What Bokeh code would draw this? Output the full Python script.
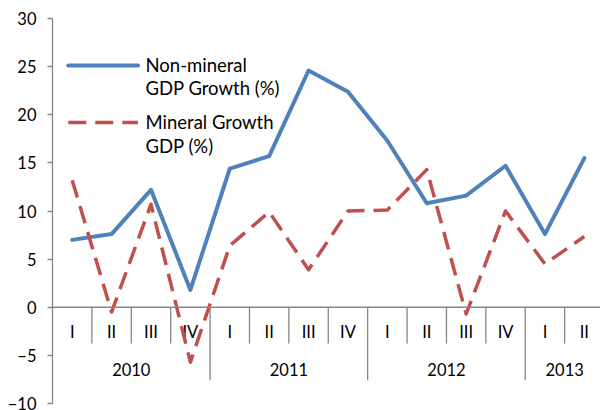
from bokeh.plotting import figure
from bokeh.models import Range1d, LinearAxis, FixedTicker, Span
from bokeh.core.properties import value
from bokeh.embed import file_html
from bokeh.resources import INLINE

# ---- data ----
quarters = ["I", "II", "III", "IV", "I", "II", "III", "IV", "I", "II", "III", "IV", "I", "II"]
years = ["2010", "2011", "2012", "2013"]
quarters_per_year = [4, 4, 4, 2]
non_mineral = [7.0, 7.6, 12.2, 1.8, 14.4, 15.7, 24.6, 22.4, 17.3, 10.8, 11.6, 14.7, 7.6, 15.5]
mineral = [13.2, -0.5, 10.7, -5.7, 6.4, 9.9, 3.9, 10.0, 10.1, 14.3, -0.7, 10.0, 4.5, 7.35]
y_ticks = [-10, -5, 0, 5, 10, 15, 20, 25, 30]
series_names = [["Non-mineral", "GDP Growth (%)"], ["Mineral Growth", "GDP (%)"]]

BLUE = "#4F81BD"
RED = "#C0504D"
GREY = "#868686"
FONT = "Lato"

n = len(quarters)
xs = [i + 0.5 for i in range(n)]

p = figure(width=600, height=410, output_backend="svg", toolbar_location=None,
           x_range=Range1d(0, 13.91), y_range=Range1d(-10, 30),
           x_axis_type=None, y_axis_type=None,
           min_border_left=52, min_border_right=0, min_border_top=18, min_border_bottom=7)
p.outline_line_color = None
p.grid.visible = False
p.background_fill_color = "white"
p.border_fill_color = "white"

yaxis = LinearAxis(ticker=FixedTicker(ticks=y_ticks))
yaxis.axis_line_color = GREY
yaxis.axis_line_width = 1.3
yaxis.major_tick_line_color = GREY
yaxis.major_tick_line_width = 1.3
yaxis.major_tick_out = 5
yaxis.major_tick_in = 0
yaxis.minor_tick_line_color = None
yaxis.major_label_text_font = FONT
yaxis.major_label_text_font_size = "16.5px"
yaxis.major_label_text_color = "black"
yaxis.major_label_standoff = 11
p.add_layout(yaxis, "left")

# zero axis line
p.add_layout(Span(location=0, dimension="width", line_color=GREY, line_width=1.3))

# category separators
year_bounds = []
acc = 0
for q in quarters_per_year:
    acc += q
    year_bounds.append(acc)
short_x = [b for b in range(1, n) if b not in year_bounds]
long_x = [b for b in year_bounds if b < n]
p.segment(x0=short_x, y0=[0] * len(short_x), x1=short_x, y1=[-3.77] * len(short_x),
          line_color=GREY, line_width=1.3)
p.segment(x0=long_x, y0=[0] * len(long_x), x1=long_x, y1=[-7.58] * len(long_x),
          line_color=GREY, line_width=1.3)

# quarter labels
p.text(x=xs, y=[-2.57] * n, text=quarters, text_align="center", text_baseline="middle",
       text_font=value(FONT), text_font_size="16.5px", text_color="black")
# year labels
year_centers = []
start = 0
for q in quarters_per_year:
    year_centers.append(start + q / 2)
    start += q
p.text(x=year_centers, y=[-6.44] * len(years), text=years, text_align="center",
       text_baseline="middle", text_font=value(FONT), text_font_size="16.5px", text_color="black")

# series
p.line(xs, non_mineral, line_color=BLUE, line_width=4, line_join="round", line_cap="round")
p.line(xs, mineral, line_color=RED, line_width=3.5, line_dash="18 9", line_join="round")

# legend (manual)
p.line([0.40, 2.17], [25.12, 25.12], line_color=BLUE, line_width=4, line_cap="round")
p.line([0.40, 2.17], [19.2, 19.2], line_color=RED, line_width=3.5, line_dash="18 9")
p.text(x=[2.36, 2.36], y=[25.12, 22.73], text=series_names[0], text_align="left",
       text_baseline="middle", text_font=value(FONT), text_font_size="18.5px", text_color="black")
p.text(x=[2.36, 2.36], y=[19.2, 16.8], text=series_names[1], text_align="left",
       text_baseline="middle", text_font=value(FONT), text_font_size="18.5px", text_color="black")

open("out.html", "w").write(file_html(p, INLINE))
